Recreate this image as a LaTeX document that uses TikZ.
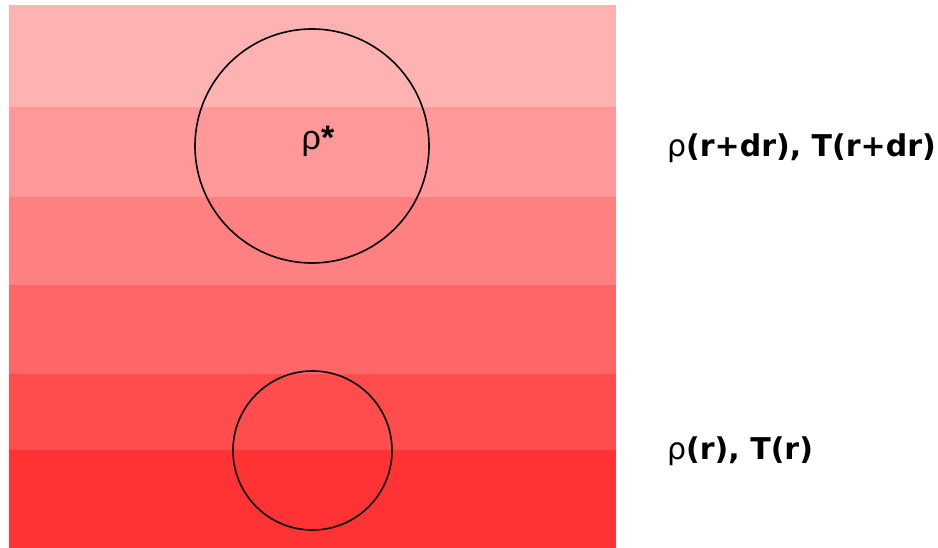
\documentclass[tikz,border=0pt]{standalone}
\usepackage{fontspec}
\setmainfont{Liberation Sans}
\newfontfamily\lblfont{DejaVu Sans}
\definecolor{s1}{RGB}{255,178,178}
\definecolor{s2}{RGB}{255,153,153}
\definecolor{s3}{RGB}{255,128,128}
\definecolor{s4}{RGB}{255,102,102}
\definecolor{s5}{RGB}{255,77,77}
\definecolor{s6}{RGB}{255,51,51}
\tikzset{
  bubble/.style={draw=black, line width=1.6pt, fill=none},
  lbl/.style={font=\lblfont\fontsize{30}{36}\selectfont\bfseries, anchor=west, inner sep=0pt}
}
\begin{document}
\begin{tikzpicture}[x=1pt,y=-1pt]
\useasboundingbox (0,0) rectangle (938,548);
\fill[s1] (9,5) rectangle (616,107.5);
\fill[s2] (9,107.5) rectangle (616,197);
\fill[s3] (9,197) rectangle (616,285.5);
\fill[s4] (9,285.5) rectangle (616,374);
\fill[s5] (9,374) rectangle (616,450);
\fill[s6] (9,450) rectangle (616,548);
\node[bubble, circle, minimum size=234pt, inner sep=0pt] (big) at (312,146) {};
\node[bubble, circle, minimum size=159pt, inner sep=0pt] (small) at (312.5,450.5) {};
\node[font=\fontsize{34}{38}\selectfont, inner sep=0pt] (rhostar) at (318,141) {ρ{\bfseries *}};
\node[lbl] (top) at (667,148) {{\mdseries ρ}(r+dr), T(r+dr)};
\node[lbl] (bot) at (667,451) {{\mdseries ρ}(r), T(r)};
\end{tikzpicture}
\end{document}
